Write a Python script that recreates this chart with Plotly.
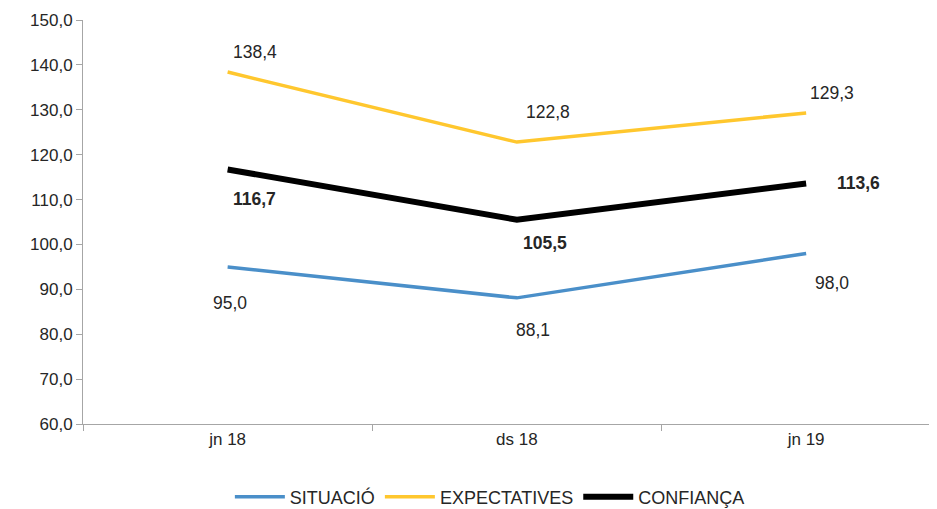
import plotly.graph_objects as go

categories = ["jn 18", "ds 18", "jn 19"]
situacio = [95.0, 88.1, 98.0]
expectatives = [138.4, 122.8, 129.3]
confianca = [116.7, 105.5, 113.6]
y_ticks = [60, 70, 80, 90, 100, 110, 120, 130, 140, 150]

FONT = "Liberation Sans"
fig = go.Figure()
fig.add_trace(go.Scatter(x=categories, y=situacio, mode="lines", name="SITUACIÓ",
                         line=dict(color="#4A8FC9", width=3.5)))
fig.add_trace(go.Scatter(x=categories, y=expectatives, mode="lines", name="EXPECTATIVES",
                         line=dict(color="#FFC72E", width=3.5)))
fig.add_trace(go.Scatter(x=categories, y=confianca, mode="lines", name="CONFIANÇA",
                         line=dict(color="#000000", width=6)))

def fmt(v):
    return f"{v:.1f}".replace(".", ",")

# label offsets (pixels) per series per point
offs_s = [(2, -36), (16, -32), (26, -30)]
offs_e = [(27, 20), (31, 30), (26, 20)]
offs_c = [(27, -30), (28, -23), (52, 0)]
for vals, offs, bold in [(situacio, offs_s, False), (expectatives, offs_e, False), (confianca, offs_c, True)]:
    for c, v, (dx, dy) in zip(categories, vals, offs):
        fig.add_annotation(x=c, y=v, text=f"<b>{fmt(v)}</b>" if bold else fmt(v),
                           showarrow=False, xshift=dx, yshift=dy,
                           font=dict(family=FONT, size=17.5, color="#262626"))

fig.update_layout(
    width=937, height=509,
    margin=dict(l=75, r=0, t=12, b=93, autoexpand=False),
    paper_bgcolor="white", plot_bgcolor="white",
    separators=",.",
    font=dict(family=FONT, size=17, color="#262626"),
    showlegend=True,
    legend=dict(orientation="h", x=0.472, xanchor="center", y=-0.135, yanchor="top",
                font=dict(family=FONT, size=18, color="#262626"),
                itemwidth=50, tracegroupgap=0),
    xaxis=dict(type="category", range=[-0.5, 2.48], showgrid=False, zeroline=False,
               showline=True, linecolor="#A6A6A6", linewidth=1, automargin=False,
               ticks="outside", tickson="boundaries", ticklen=6, tickcolor="#A6A6A6",
               tickfont=dict(family=FONT, size=17, color="#262626")),
    yaxis=dict(range=[60, 150], tickvals=y_ticks, tickformat=".1f", showgrid=False,
               zeroline=False, showline=True, linecolor="#A6A6A6", linewidth=1,
               automargin=False,
               ticks="outside", ticklen=6, tickcolor="#A6A6A6",
               tickfont=dict(family=FONT, size=17, color="#262626")),
)
fig.write_html("out.html")
